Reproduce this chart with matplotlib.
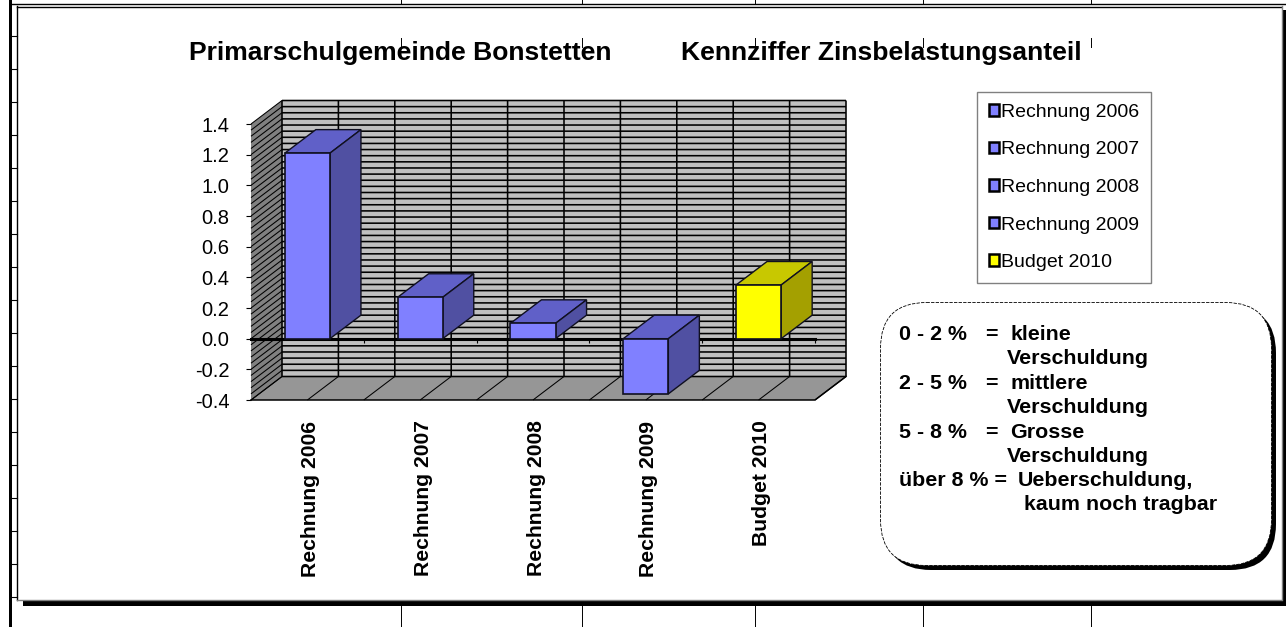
import matplotlib
matplotlib.use("Agg")
import matplotlib.pyplot as plt
import numpy as np
from matplotlib.patches import FancyBboxPatch, Patch, Polygon
from matplotlib.transforms import ScaledTranslation

categories = ["Rechnung 2006", "Rechnung 2007", "Rechnung 2008", "Rechnung 2009", "Budget 2010"]
values = [1.21, 0.27, 0.10, -0.36, 0.35]
y_ticks = [-0.4, -0.2, 0.0, 0.2, 0.4, 0.6, 0.8, 1.0, 1.2, 1.4]
y_tick_labels = ["-0.4", "-0.2", "0.0", "0.2", "0.4", "0.6", "0.8", "1.0", "1.2", "1.4"]

title_left = "Primarschulgemeinde Bonstetten"
title_right = "Kennziffer Zinsbelastungsanteil"

note_lines = [
    (899, 340, "0 - 2 %"), (985, 340, "="), (1010, 340, "kleine"),
    (1007, 364.5, "Verschuldung"),
    (899, 389, "2 - 5 %"), (985, 389, "="), (1010, 389, "mittlere"),
    (1007, 413, "Verschuldung"),
    (899, 437.5, "5 - 8 %"), (985, 437.5, "="), (1010, 437.5, "Grosse"),
    (1007, 462, "Verschuldung"),
    (899, 486.5, "über 8 % ="), (1018, 486.5, "Ueberschuldung,"),
    (1024, 510.5, "kaum noch tragbar"),
]

W, H = 1286, 627
DEPTH_X = 31 / 112.8
DEPTH_Y = 23.5 / 153.33
BAR_W = 0.4

BLUE = ("#8080ff", "#6060c8", "#5050a2")
YELLOW = ("#ffff00", "#c8c800", "#a4a000")

plt.rcParams["font.family"] = ["Liberation Sans", "DejaVu Sans"]


def px_axes(fig, left, top, right, bottom):
    return fig.add_axes([left / W, 1 - bottom / H, (right - left) / W, (bottom - top) / H])


def draw_sheet(bg):
    # spreadsheet cell lines and the chart frame behind the chart
    bg.plot([12, W], [3.5, 3.5], color="black", lw=1.0)
    bg.plot([17, 1281], [6.5, 6.5], color="black", lw=1.0)
    bg.plot([17, 17], [6, 600], color="black", lw=1.0)
    bg.plot([17, 1281], [599.5, 599.5], color="#808080", lw=1.0)
    bg.plot([1281.5, 1281.5], [6, 600], color="#808080", lw=1.0)
    bg.fill_between([23, W], 600, 606, color="black", lw=0)
    bg.fill_between([1283, W], 10, 606, color="black", lw=0)
    bg.fill_between([9, 12], 0, H, color="black", lw=0)
    for y in np.arange(36, 600, 33):
        bg.plot([12, 17], [y, y], color="black", lw=0.8)
    for x in [401, 582, 755, 923, 1091]:
        bg.plot([x, x], [0, 3], color="black", lw=0.7)
        bg.plot([x, x], [606, H], color="black", lw=0.7)
        bg.plot([x, x], [38, 47], color="black", lw=0.7, zorder=4)


def draw_walls(ax):
    x0, x1 = 0, 5
    y0, y1 = -0.4, 1.4
    dx, dy = DEPTH_X, DEPTH_Y
    kw = dict(clip_on=False, zorder=1, lw=0)
    ax.add_patch(Polygon([(x0 + dx, y0 + dy), (x1 + dx, y0 + dy), (x1 + dx, y1 + dy), (x0 + dx, y1 + dy)],
                         facecolor="#c0c0c0", **kw))
    ax.add_patch(Polygon([(x0, y0), (x0 + dx, y0 + dy), (x0 + dx, y1 + dy), (x0, y1)],
                         facecolor="#808080", **kw))
    ax.add_patch(Polygon([(x0, y0), (x1, y0), (x1 + dx, y0 + dy), (x0 + dx, y0 + dy)],
                         facecolor="#969696", **kw))
    # no snapping, so the grid lines blur unevenly as they do in the scan
    line = dict(color="black", lw=1.15, clip_on=False, zorder=1.5, solid_capstyle="butt", snap=False)
    thin = dict(color="black", lw=0.75, clip_on=False, zorder=1.5, solid_capstyle="butt")
    for y in np.arange(y0, y1 + 0.001, 0.04):
        ax.plot([x0 + dx, x1 + dx], [y + dy, y + dy], **line)
        ax.plot([x0, x0 + dx], [y, y + dy], **thin)
    for x in np.arange(x0, x1 + 0.001, 0.5):
        ax.plot([x + dx, x + dx], [y0 + dy, y1 + dy], **line)
        ax.plot([x, x + dx], [y0, y0 + dy], **thin)
    ax.plot([x0, x1, x1 + dx], [y0, y0, y0 + dy], color="black", lw=1.1, clip_on=False, zorder=1.6)


def draw_bars(ax):
    dx, dy = DEPTH_X, DEPTH_Y
    for i, (val, name) in enumerate(zip(values, categories)):
        front, top, side = YELLOW if name.startswith("Budget") else BLUE
        xl = i + 0.5 - BAR_W / 2
        xr = xl + BAR_W
        hi = max(val, 0)
        kw = dict(edgecolor="#101020", lw=1.0, clip_on=False, zorder=3, joinstyle="miter")
        ax.add_patch(Polygon([(xl, hi), (xr, hi), (xr + dx, hi + dy), (xl + dx, hi + dy)], facecolor=top, **kw))
        ax.add_patch(Polygon([(xr, 0 if val > 0 else val), (xr + dx, (0 if val > 0 else val) + dy),
                              (xr + dx, hi + dy), (xr, hi)], facecolor=side, **kw))
        ax.bar(i + 0.5, val, BAR_W, color=front, edgecolor="#101020", lw=1.2, clip_on=False, zorder=3.1)


def main():
    fig = plt.figure(figsize=(W / 100, H / 100), dpi=100, facecolor="white")

    bg = fig.add_axes([0, 0, 1, 1], zorder=0)
    bg.set_xlim(0, W)
    bg.set_ylim(H, 0)
    bg.axis("off")
    draw_sheet(bg)

    bg.text(189, 60, title_left, fontsize=19.05, fontweight="bold", va="baseline", zorder=3)
    bg.text(681, 60, title_right, fontsize=19.05, fontweight="bold", va="baseline", zorder=3)

    # note box with its black shadow
    shape = dict(boxstyle="round,pad=0,rounding_size=46", mutation_aspect=1)
    bg.add_patch(FancyBboxPatch((885, 307), 391, 263, facecolor="black", edgecolor="none", zorder=2, **shape))
    bg.add_patch(FancyBboxPatch((880.5, 302.5), 391, 263, facecolor="white", edgecolor="black",
                                lw=0.6, linestyle=(0, (4, 1.5)), zorder=2.1, **shape))
    for x, y, text in note_lines:
        bg.text(x, y, text, fontsize=15.4, fontweight="bold", va="baseline", zorder=3)

    ax = px_axes(fig, 251, 124, 815, 400)
    ax.set_zorder(1)
    ax.patch.set_visible(False)
    ax.set_xlim(0, 5)
    ax.set_ylim(-0.4, 1.4)

    draw_walls(ax)
    draw_bars(ax)

    for side in ["top", "right", "left"]:
        ax.spines[side].set_visible(False)
    ax.spines["bottom"].set_position(("data", 0))
    ax.spines["bottom"].set_linewidth(2.2)
    ax.spines["bottom"].set_zorder(2)

    ax.set_yticks(y_ticks)
    ax.set_yticklabels(y_tick_labels, fontsize=14.5)
    ax.tick_params(axis="y", length=3.6, width=0.8, pad=12)

    ax.set_xticks(np.arange(len(categories)) + 0.5)
    ax.set_xticklabels(categories, rotation=90, fontsize=15.2, fontweight="bold")
    ax.set_xticks(np.arange(1, len(categories) + 1), minor=True)
    ax.tick_params(axis="x", which="major", length=0, pad=59)
    ax.tick_params(axis="x", which="minor", length=3, width=0.8)
    shift = ScaledTranslation(3 / 100, 0, fig.dpi_scale_trans)
    for label in ax.get_xticklabels():
        label.set_transform(label.get_transform() + shift)

    handles = [Patch(facecolor=YELLOW[0] if c.startswith("Budget") else BLUE[0], edgecolor="black", lw=1.8)
               for c in categories]
    leg = ax.legend(handles, categories, loc="upper left", bbox_to_anchor=(977 / W, 1 - 92 / H),
                    bbox_transform=fig.transFigure, fontsize=14, frameon=True, fancybox=False,
                    edgecolor="#808080", facecolor="white", framealpha=1, handlelength=0.55, handleheight=0.55,
                    handletextpad=0.1, labelspacing=1.06, borderpad=0.6, borderaxespad=0, labelcolor="black")
    leg.get_frame().set_linewidth(1.0)

    fig.savefig("out.png", dpi=100)


if __name__ == "__main__":
    main()
